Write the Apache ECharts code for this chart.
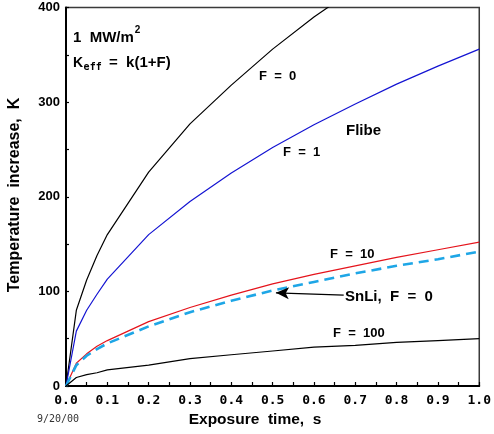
<!DOCTYPE html>
<html>
<head>
<meta charset="utf-8">
<script src="https://cdn.jsdelivr.net/npm/echarts@6/dist/echarts.min.js"></script>
<style>
html,body{margin:0;padding:0;background:#fff}
#chart{width:494px;height:434px}
</style>
</head>
<body>
<div id="chart"></div>
<script>
// Exposure time (s) at which each temperature rise was evaluated
const times = [0, 0.025, 0.05, 0.075, 0.1, 0.2, 0.3, 0.4, 0.5, 0.6, 0.7, 0.8, 0.9, 1.0];

// Temperature increase (K), 1 MW/m2 surface heat flux
const flibeF0   = [0, 80, 112, 138, 160, 226, 277, 318, 356, 390, 420];
const flibeF1   = [0, 58, 80, 97, 113, 160, 195, 225, 252, 276, 298, 319, 338, 356];
const flibeF10  = [0, 24, 34, 42, 48, 68, 83, 96, 108, 118, 127, 136, 144, 152];
const snliF0    = [0, 22, 32, 39, 45, 63, 78, 90, 101, 110, 119, 127, 134, 142];
const flibeF100 = [0, 9, 12, 14, 17, 22, 29, 33, 37, 41, 43, 46, 48, 50];

// Axis tick values
const xTicks = [0, 0.1, 0.2, 0.3, 0.4, 0.5, 0.6, 0.7, 0.8, 0.9, 1.0];
const yTicks = [0, 100, 200, 300, 400];

// Arrow pointing from the SnLi label to its curve: [time, K]
const arrowFrom = [0.672, 96];
const arrowTo = [0.508, 98.5];

const pairs = vals => vals.map((v, i) => [times[i], v]);

const SANS = '"Liberation Sans", Arial, sans-serif';
const MONO = '"DejaVu Sans Mono", monospace';

// Measure text so super/subscripts sit right after their base text
const measureCtx = document.createElement('canvas').getContext('2d');
function textWidth(text, font) {
  measureCtx.font = font;
  return measureCtx.measureText(text).width;
}

const chart = echarts.init(document.getElementById('chart'), null, {renderer: 'canvas'});

function label(text, x, y, size, extra) {
  return Object.assign({
    type: 'text', x: x, y: y, z: 100,
    style: {text: text, fill: '#000', font: 'bold ' + size + 'px ' + SANS,
            textAlign: 'left', textVerticalAlign: 'middle'}
  }, extra || {});
}

const line = (data, color, width, extra) => Object.assign({
  type: 'line', data: pairs(data), showSymbol: false, symbol: 'none',
  smooth: false, clip: true,
  lineStyle: {color: color, width: width}
}, extra || {});

const fluxText = '1  MW/m';
const fluxFont = 'bold 15px ' + SANS;
const fluxEnd = 73 + textWidth(fluxText, fluxFont);
const kFont = 'bold 14px ' + SANS;
const kEnd = 73 + textWidth('K', kFont);

chart.setOption({
  animation: false,
  backgroundColor: '#fff',
  grid: {left: 66, right: 13, top: 7.5, bottom: 48, show: true,
         borderColor: '#3a3a3a', borderWidth: 1.5, backgroundColor: 'transparent'},
  xAxis: {
    type: 'value', min: xTicks[0], max: xTicks[xTicks.length - 1], interval: 0.1,
    axisLine: {show: true, onZero: false, lineStyle: {color: '#000', width: 2}},
    axisTick: {show: true, inside: true, length: 4, lineStyle: {color: '#000', width: 1.2}},
    minorTick: {show: true, splitNumber: 2, length: 4, lineStyle: {color: '#000', width: 1.2}},
    splitLine: {show: false},
    axisLabel: {color: '#000', fontFamily: MONO, fontWeight: 'bold', fontSize: 13, margin: 8,
                formatter: v => v.toFixed(1)}
  },
  yAxis: {
    type: 'value', min: yTicks[0], max: yTicks[yTicks.length - 1], interval: 100,
    axisLine: {show: true, onZero: false, lineStyle: {color: '#000', width: 2}},
    axisTick: {show: true, inside: true, length: 3, lineStyle: {color: '#000', width: 1.2}},
    minorTick: {show: true, splitNumber: 2, length: 3, lineStyle: {color: '#000', width: 1.2}},
    splitLine: {show: false},
    axisLabel: {color: '#000', fontFamily: SANS, fontWeight: 'bold', fontSize: 13, margin: 6}
  },
  series: [
    line(flibeF0, '#000', 1.2),
    line(flibeF1, '#1414d2', 1.2),
    line(flibeF10, '#e5141c', 1.2),
    line(snliF0, '#1ea6e6', 2.6, {
      lineStyle: {color: '#1ea6e6', width: 2.6, type: [10, 6]},
      markLine: {
        silent: true, symbol: ['none', 'arrow'], symbolSize: [9, 13],
        label: {show: false},
        lineStyle: {color: '#000', width: 1.3, type: 'solid'},
        data: [[{coord: arrowFrom}, {coord: arrowTo}]]
      }
    }),
    line(flibeF100, '#000', 1.2)
  ],
  graphic: [
    {type: 'text', x: 73, y: 38, z: 100,
     style: {text: fluxText, fill: '#000', font: fluxFont, textAlign: 'left', textVerticalAlign: 'middle'}},
    label('2', fluxEnd + 1, 30, 10),
    {type: 'text', x: 73, y: 63, z: 100,
     style: {text: 'K', fill: '#000', font: kFont, textAlign: 'left', textVerticalAlign: 'middle'}},
    {type: 'text', x: kEnd + 0.5, y: 67, z: 100,
     style: {text: 'eff', fill: '#000', font: 'bold 10px ' + MONO, textAlign: 'left', textVerticalAlign: 'middle'}},
    label('=  k(1+F)', 109, 63, 15),
    label('F  =  0', 259, 76, 13),
    label('Flibe', 346, 131, 15),
    label('F  =  1', 283, 152, 13),
    label('F  =  10', 330, 254, 13),
    label('SnLi,  F  =  0', 345, 297, 15),
    label('F  =  100', 333, 333, 13),
    {type: 'text', x: 37, y: 419, z: 100,
     style: {text: '9/20/00', fill: '#333', font: '10px ' + MONO, textAlign: 'left', textVerticalAlign: 'middle'}},
    {type: 'text', x: 255, y: 420, z: 100,
     style: {text: 'Exposure  time,  s', fill: '#000', font: 'bold 15.5px ' + SANS, textAlign: 'center', textVerticalAlign: 'middle'}},
    {type: 'text', x: 15, y: 195, z: 100, rotation: Math.PI / 2,
     style: {text: 'Temperature  increase,  K', fill: '#000', font: 'bold 16px ' + SANS, textAlign: 'center', textVerticalAlign: 'middle'}}
  ]
});
</script>
</body>
</html>
